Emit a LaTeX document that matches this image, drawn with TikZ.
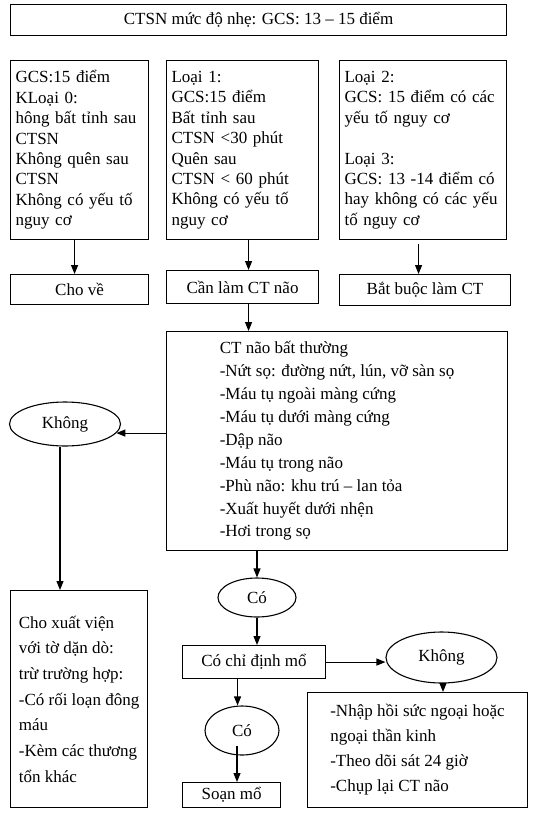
\documentclass[tikz,border=0pt]{standalone}
\usepackage{fontspec}
\setmainfont{Liberation Serif}
\usetikzlibrary{arrows.meta, positioning, shapes.geometric}

\begin{document}
\begin{tikzpicture}[
  x=1pt, y=-1pt,
  box/.style={rectangle, draw, line width=1.1pt, inner sep=0pt, align=center, anchor=north west, font={\fontsize{17}{20.4}\selectfont}},
  textbox/.style={box, align=left, inner xsep=5pt, inner ysep=0pt, minimum height=179pt},
  oval/.style={ellipse, draw, line width=1.1pt, inner sep=0pt, font={\fontsize{17}{20.4}\selectfont}},
  arrow/.style={-{Triangle[length=9pt, width=7pt]}, line width=1.1pt}
]
\useasboundingbox (0,0) rectangle (537,819);

\node[box, minimum width=496pt, minimum height=31pt] (title) at (10,4) {CTSN mức độ nhẹ: GCS: 13 -- 15 điểm};

\node[textbox, text width=128pt] (loai0) at (10,60) {GCS:15 điểm\\KLoại 0:\\hông bất tỉnh sau\\CTSN\\Không quên sau\\CTSN\\Không có yếu tố\\nguy cơ};
\node[textbox, text width=142pt] (loai1) at (166,60) {Loại 1:\\GCS:15 điểm\\Bất tỉnh sau\\CTSN <30 phút\\Quên sau\\CTSN < 60 phút\\Không có yếu tố\\nguy cơ};
\node[textbox, text width=157pt] (loai23) at (339,60) {Loại 2:\\GCS: 15 điểm có các\\yếu tố nguy cơ\\[20.4pt]Loại 3:\\GCS: 13 -14 điểm có\\hay không có các yếu\\tố nguy cơ};

\node[box, minimum width=138pt, minimum height=30pt] (chove) at (10,274) {Cho về};
\node[box, minimum width=152pt, minimum height=33pt] (canlam) at (166,270) {Cần làm CT não};
\node[box, minimum width=171pt, minimum height=31pt] (batbuoc) at (339,274) {Bắt buộc làm CT};

\node[box, align=left, minimum width=341pt, minimum height=219pt, font={\fontsize{17}{22.9}\selectfont}] (ctnao) at (166,331) {CT não bất thường\\-Nứt sọ: đường nứt, lún, vỡ sàn sọ\\-Máu tụ ngoài màng cứng\\-Máu tụ dưới màng cứng\\-Dập não\\-Máu tụ trong não\\-Phù não: khu trú – lan tỏa\\-Xuất huyết dưới nhện\\-Hơi trong sọ};

\node[oval, minimum width=111pt, minimum height=44pt] (khong1) at (65,424) {Không};

\node[box, align=left, minimum width=137pt, minimum height=217pt, font={\fontsize{17}{25.7}\selectfont}] (xuatvien) at (10,590) {Cho xuất viện\\với tờ dặn dò:\\trừ trường hợp:\\-Có rối loạn đông\\máu\\-Kèm các thương\\tổn khác};

\node[oval, minimum width=78pt, minimum height=39pt] (co1) at (257,597.5) {Có};
\node[box, minimum width=143pt, minimum height=33pt] (chidinh) at (182,645) {Có chỉ định mổ};
\node[oval, minimum width=111pt, minimum height=51pt] (khong2) at (441.5,657.5) {Không};
\node[box, align=left, minimum width=220pt, minimum height=115pt, font={\fontsize{17}{25}\selectfont}] (nhap) at (307,692) {-Nhập hồi sức ngoại hoặc\\ngoại thần kinh\\-Theo dõi sát 24 giờ\\-Chụp lại CT não};
\node[oval, minimum width=74pt, minimum height=49pt] (co2) at (242,730.5) {Có};
\node[box, minimum width=98pt, minimum height=25pt] (soanmo) at (182,782) {Soạn mổ};

\draw[arrow] ([xshift=-5pt]loai0.south) -- ([xshift=-5pt]chove.north);
\draw[arrow] ([xshift=6pt]loai1.south) -- ([xshift=6pt]canlam.north);
\draw[arrow, shorten <=4pt] ([xshift=-4.5pt]loai23.south) -- ([xshift=-4.5pt]loai23.south |- batbuoc.north);
\draw[arrow] ([xshift=6pt]canlam.south) -- ([xshift=6pt]canlam.south |- ctnao.north);
\draw[arrow] (khong1.-10 -| ctnao.west) -- (khong1.-10);
\draw[arrow] ([xshift=-5pt]khong1.south) -- ([xshift=-5pt]khong1.south |- xuatvien.north);
\draw[arrow] (co1 |- ctnao.south) -- (co1.north);
\draw[arrow] (co1.south) -- (co1.south |- chidinh.north);
\draw[arrow] (chidinh.east) -- (chidinh.east -| khong2.west);
\draw[arrow] ([xshift=1.5pt]khong2.south) -- ([xshift=1.5pt]khong2.south |- nhap.north);
\draw[arrow] ([xshift=-16.5pt]chidinh.south) -- ([xshift=-16.5pt]chidinh.south |- co2.north);
\draw[arrow, shorten <=15pt] ([xshift=-5pt]co2.center) -- ([xshift=-5pt]co2.center |- soanmo.north);
\end{tikzpicture}
\end{document}
